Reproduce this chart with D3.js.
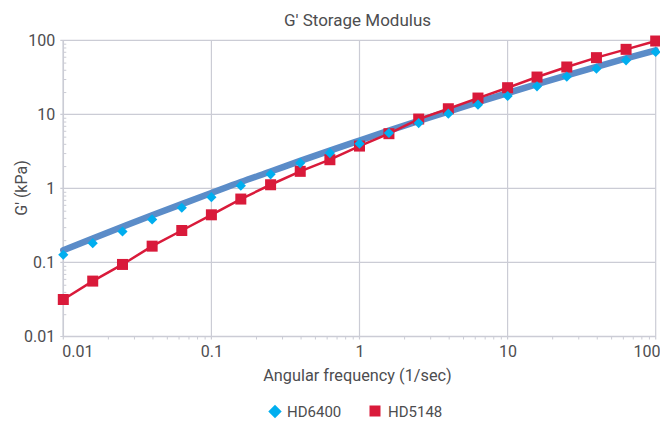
<!DOCTYPE html>
<html>
<head>
<meta charset="utf-8">
<script src="https://cdn.jsdelivr.net/npm/d3@7"></script>
<style>
body { margin: 0; background: #fff; }
text { font-family: Roboto, "Noto Sans", sans-serif; fill: #4d4d4f; }
</style>
</head>
<body>
<div id="chart"></div>
<script>
// angular frequency (1/sec)
var freq = [0.01, 0.0158, 0.0251, 0.0398, 0.0631, 0.1, 0.158, 0.251, 0.398, 0.631,
            1, 1.58, 2.51, 3.98, 6.31, 10, 15.8, 25.1, 39.8, 63.1, 100];
// G' (kPa)
var hd6400 = [0.127, 0.182, 0.262, 0.381, 0.548, 0.762, 1.09, 1.55, 2.2, 3.0,
              4.02, 5.6, 7.63, 10.2, 13.5, 17.7, 23.9, 32.3, 41.4, 53.7, 69.5];
var hd6400Fit = [0.146, 0.211, 0.303, 0.433, 0.614, 0.867, 1.22, 1.69, 2.35, 3.24,
                 4.43, 6.03, 8.15, 10.9, 14.6, 19.4, 25.6, 33.7, 43.9, 56.9, 73.3];
var hd5148 = [0.0316, 0.056, 0.094, 0.166, 0.27, 0.44, 0.718, 1.12, 1.70, 2.44,
              3.73, 5.48, 8.64, 11.9, 16.6, 22.9, 31.9, 43.6, 58.3, 75.5, 97.8];
var majorTicks = [0.01, 0.1, 1, 10, 100];
var tickLabels = ["0.01", "0.1", "1", "10", "100"];
var seriesNames = ["HD6400", "HD5148"];

var width = 660, height = 421;
var pLeft = 63.3, pRight = 655.7, pTop = 40.3, pBottom = 336.5;
var gridColor = "#cbccd5";
var blue = "#5b8cc8", cyan = "#00aeef", red = "#d91a3a";

var svg = d3.select("#chart").append("svg").attr("width", width).attr("height", height);

var x = d3.scaleLog().domain([0.01, 100]).range([pLeft, pRight]);
var y = d3.scaleLog().domain([0.01, 100]).range([pBottom, pTop]);

var minor = [];
majorTicks.slice(0, -1).forEach(function(t) {
	for (var m = 2; m <= 9; m++) minor.push(t * m);
});

// grid
var grid = svg.append("g");
majorTicks.forEach(function(t) {
	grid.append("line").attr("x1", x(t)).attr("x2", x(t)).attr("y1", pTop).attr("y2", pBottom + 3)
		.attr("stroke", gridColor).attr("stroke-width", 1.2);
	grid.append("line").attr("x1", pLeft - 3).attr("x2", pRight).attr("y1", y(t)).attr("y2", y(t))
		.attr("stroke", gridColor).attr("stroke-width", 1.2);
});

// minor ticks
var xMinor = svg.append("g").attr("transform", "translate(0," + pBottom + ")")
	.call(d3.axisBottom(x).tickValues(minor).tickSize(3).tickFormat(""));
var yMinor = svg.append("g").attr("transform", "translate(" + pLeft + ",0)")
	.call(d3.axisRight(y).tickValues(minor).tickSize(3).tickFormat(""));
[xMinor, yMinor].forEach(function(g) {
	g.select(".domain").remove();
	g.selectAll("line").attr("stroke", gridColor);
});

// tick labels
var xAxis = svg.append("g").attr("transform", "translate(0," + pBottom + ")")
	.call(d3.axisBottom(x).tickValues(majorTicks).tickSize(0).tickPadding(9)
		.tickFormat(function(d, i) { return tickLabels[i]; }));
xAxis.select(".domain").remove();
xAxis.selectAll("text").attr("font-size", 16).attr("font-family", null).style("fill", "#4d4d4f");
xAxis.selectAll("text").filter(function(d, i) { return i == 0; }).attr("text-anchor", "start").attr("x", -1.5);
xAxis.selectAll("text").filter(function(d, i) { return i == 4; }).attr("text-anchor", "end").attr("x", width - pRight);

var yAxis = svg.append("g").attr("transform", "translate(" + pLeft + ",0)")
	.call(d3.axisLeft(y).tickValues(majorTicks).tickSize(0).tickPadding(8)
		.tickFormat(function(d, i) { return tickLabels[i]; }));
yAxis.select(".domain").remove();
yAxis.selectAll("text").attr("font-size", 16).attr("font-family", null).style("fill", "#4d4d4f");

// axis lines
svg.append("line").attr("x1", pLeft).attr("x2", pLeft).attr("y1", pTop).attr("y2", pBottom)
	.attr("stroke", gridColor).attr("stroke-width", 1.5);
svg.append("line").attr("x1", pLeft).attr("x2", pRight).attr("y1", pBottom).attr("y2", pBottom)
	.attr("stroke", gridColor).attr("stroke-width", 1.5);

// series
var fitLine = d3.line().x(function(d, i) { return x(freq[i]); }).y(function(d) { return y(d); })
	.curve(d3.curveMonotoneX);
svg.append("path").datum(hd6400Fit).attr("d", fitLine)
	.attr("fill", "none").attr("stroke", blue).attr("stroke-width", 6.5).attr("stroke-linecap", "round");

var redLine = d3.line().x(function(d, i) { return x(freq[i]); }).y(function(d) { return y(d); });
svg.append("path").datum(hd5148).attr("d", redLine)
	.attr("fill", "none").attr("stroke", red).attr("stroke-width", 2.5);

svg.append("g").selectAll("rect").data(hd5148).enter().append("rect")
	.attr("x", function(d, i) { return x(freq[i]) - 5.5; })
	.attr("y", function(d) { return y(d) - 5.5; })
	.attr("width", 11).attr("height", 11).attr("fill", red);

var diamond = d3.symbol().type(d3.symbolSquare).size(52);
svg.append("g").selectAll("path").data(hd6400).enter().append("path")
	.attr("d", diamond)
	.attr("transform", function(d, i) { return "translate(" + x(freq[i]) + "," + y(d) + ") rotate(45)"; })
	.attr("fill", cyan);

// titles
svg.append("text").attr("x", 357.5).attr("y", 26).attr("text-anchor", "middle")
	.attr("font-size", 17).text("G' Storage Modulus");
svg.append("text").attr("x", 357.5).attr("y", 381).attr("text-anchor", "middle")
	.attr("font-size", 16.3).text("Angular frequency (1/sec)");
svg.append("text").attr("transform", "translate(27,188) rotate(-90)").attr("text-anchor", "middle")
	.attr("font-size", 16).text("G' (kPa)");

// legend
var legend = svg.append("g");
legend.append("path").attr("d", d3.symbol().type(d3.symbolSquare).size(90))
	.attr("transform", "translate(275,411.5) rotate(45)").attr("fill", cyan);
legend.append("text").attr("x", 287).attr("y", 417).attr("font-size", 15).text(seriesNames[0]);
legend.append("rect").attr("x", 369.5).attr("y", 405.5).attr("width", 11).attr("height", 11).attr("fill", red);
legend.append("text").attr("x", 388).attr("y", 417).attr("font-size", 15).text(seriesNames[1]);
</script>
</body>
</html>
